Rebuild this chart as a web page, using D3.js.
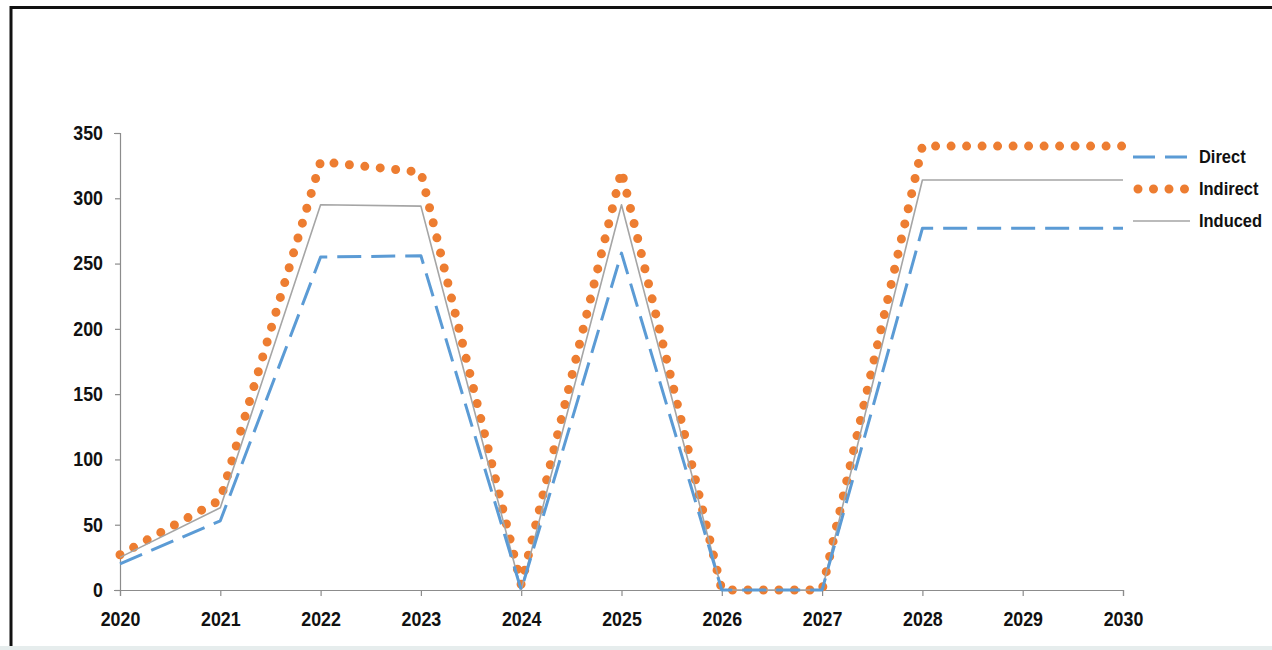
<!DOCTYPE html>
<html>
<head>
<meta charset="utf-8">
<script src="https://cdn.jsdelivr.net/npm/d3@7"></script>
<style>
  html, body { margin: 0; padding: 0; background: #fff; }
  svg { display: block; }
  text { font-family: "Liberation Sans", Arial, sans-serif; font-weight: bold; fill: #111; }
</style>
</head>
<body>
<svg id="chart" width="1272" height="650"></svg>
<script>
// Yearly impact by type
const years = [2020, 2021, 2022, 2023, 2024, 2025, 2026, 2027, 2028, 2029, 2030];
const direct   = [20, 53, 255, 256, 0, 258, 0, 0, 277, 277, 277];
const indirect = [27, 69, 328, 320, 4, 321, 0, 0, 340, 340, 340];
const induced  = [25, 63, 295, 294, 0, 295, 0, 0, 314, 314, 314];
const yTicks = [0, 50, 100, 150, 200, 250, 300, 350];
const seriesNames = ["Direct", "Indirect", "Induced"];

const svg = d3.select("#chart");
const narrow = 0.89; // horizontal squeeze for a condensed bold look

// outer frame
svg.append("rect")
  .attr("x", 11).attr("y", 7.5)
  .attr("width", 1280).attr("height", 700)
  .attr("fill", "none").attr("stroke", "#111").attr("stroke-width", 3);
svg.append("rect")
  .attr("x", 0).attr("y", 646).attr("width", 1272).attr("height", 4)
  .attr("fill", "#e6eded");

const x = d3.scaleLinear().domain([2020, 2030]).range([120, 1123]);
const y = d3.scaleLinear().domain([0, 350]).range([590, 133]);

// axes
const yAxis = svg.append("g").attr("transform", "translate(120,0)")
  .call(d3.axisLeft(y).tickValues(yTicks).tickSize(6).tickPadding(11).tickFormat(d3.format("d")));
const xAxis = svg.append("g").attr("transform", "translate(0,590)")
  .call(d3.axisBottom(x).tickValues(years).tickSize(6).tickPadding(16).tickFormat(d3.format("d")));

[yAxis, xAxis].forEach(g => {
  g.select(".domain").attr("stroke", "#8c8c8c").attr("stroke-width", 1.2);
  g.selectAll(".tick line").attr("stroke", "#8c8c8c").attr("stroke-width", 1.2);
  g.selectAll("text").attr("font-size", 20).attr("fill", "#111")
    .attr("font-family", "'Liberation Sans', Arial, sans-serif")
    .attr("font-weight", "bold")
    .each(function () {
      const t = d3.select(this);
      const tx = +t.attr("x") || 0;
      t.attr("x", tx / narrow).attr("transform", `scale(${narrow},1)`);
    });
});
yAxis.selectAll(".tick line").attr("x2", -5);

const line = d3.line().x((d, i) => x(years[i])).y(d => y(d));

const styles = {
  Direct:   { data: direct,   stroke: "#5b9bd5", width: 3,   dash: "24 10", cap: "butt" },
  Indirect: { data: indirect, stroke: "#ed7d31", width: 9,   dash: "0 15.5", cap: "round" },
  Induced:  { data: induced,  stroke: "#a5a5a5", width: 1.6, dash: null,   cap: "butt" }
};

// draw indirect first so the thinner lines stay visible on top
["Indirect", "Induced", "Direct"].forEach(name => {
  const s = styles[name];
  svg.append("path")
    .datum(s.data)
    .attr("d", line)
    .attr("fill", "none")
    .attr("stroke", s.stroke)
    .attr("stroke-width", s.width)
    .attr("stroke-linecap", s.cap)
    .attr("stroke-linejoin", "round")
    .attr("stroke-dasharray", s.dash);
});

// legend
const legend = svg.append("g").attr("transform", "translate(1133,157)");
seriesNames.forEach((name, i) => {
  const s = styles[name];
  const g = legend.append("g").attr("transform", `translate(0,${i * 32})`);
  g.append("line")
    .attr("x1", name === "Indirect" ? 5 : 0).attr("x2", 57)
    .attr("y1", 0).attr("y2", 0)
    .attr("stroke", s.stroke)
    .attr("stroke-width", s.width)
    .attr("stroke-linecap", s.cap)
    .attr("stroke-dasharray", name === "Direct" ? "22 10" : s.dash);
  g.append("text")
    .attr("x", 66 / narrow).attr("y", 0).attr("dy", "0.35em")
    .attr("transform", `scale(${narrow},1)`)
    .attr("font-size", 18.5)
    .text(name);
});
</script>
</body>
</html>
